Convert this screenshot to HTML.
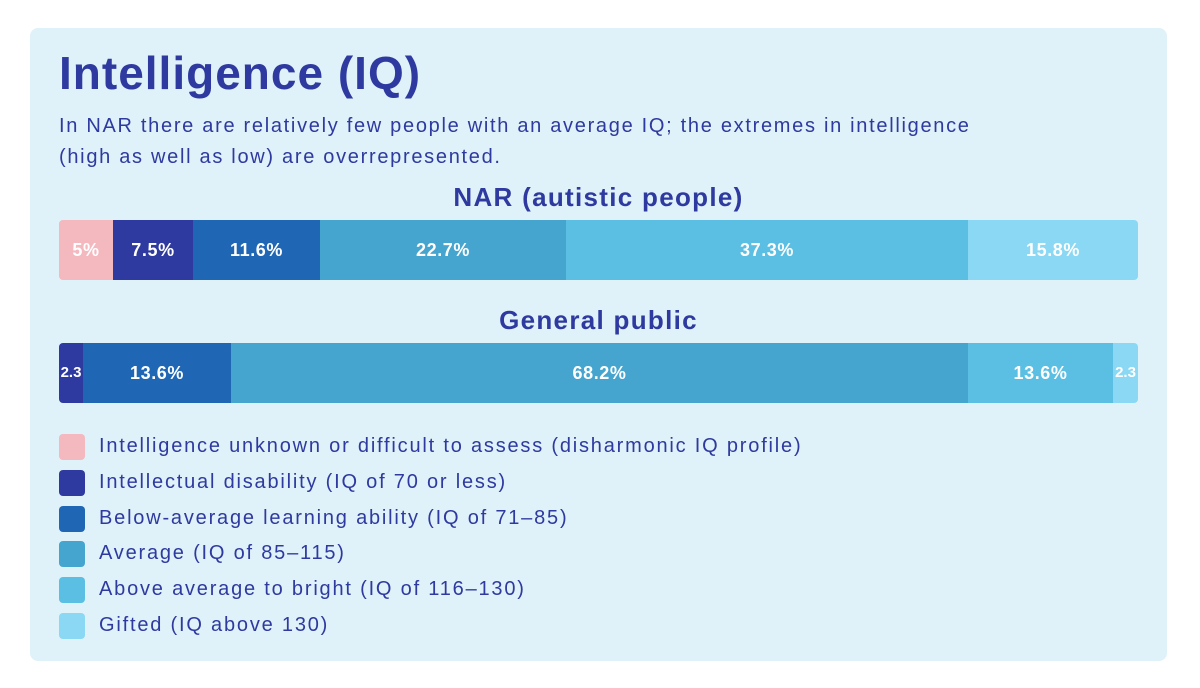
<!DOCTYPE html>
<html><head><style>
body{margin:0;width:1200px;height:688px;background:#fff;font-family:"Liberation Sans",sans-serif;position:relative;overflow:hidden}
.card{position:absolute;left:30px;top:28px;width:1137px;height:633px;background:#dff1f9;border-radius:8px}
.t{position:absolute;color:#2e3a9f;white-space:nowrap}
.bar{position:absolute;left:59px;width:1079px;height:60px;border-radius:4px;overflow:hidden;display:flex}
.bar div{height:60px;line-height:60px;color:#fff;font-weight:bold;font-size:18px;letter-spacing:0.6px;text-align:center;overflow:hidden;white-space:nowrap}
.sq{position:absolute;left:59px;width:26px;height:26px;border-radius:4px}
.lg{position:absolute;left:99px;font-size:20px;letter-spacing:1.8px;color:#2e3a9f;white-space:nowrap}
</style></head><body>
<div class="card"></div>
<div class="t" style="left:59px;top:46px;font-size:46px;font-weight:bold;letter-spacing:1px">Intelligence (IQ)</div>
<div class="t" style="left:59px;top:111px;font-size:20px;line-height:31px;letter-spacing:1.7px">In NAR there are relatively few people with an average IQ; the extremes in intelligence<br>(high as well as low) are overrepresented.</div>
<div class="t" style="left:0;width:1197px;text-align:center;top:182px;font-size:26px;font-weight:bold;letter-spacing:1.3px">NAR (autistic people)</div>
<div class="bar" style="top:220px">
<div style="width:54px;background:#f4b8bf">5%</div>
<div style="width:80px;background:#2e3a9f">7.5%</div>
<div style="width:127px;background:#1f67b5">11.6%</div>
<div style="width:246px;background:#45a5cf">22.7%</div>
<div style="width:402px;background:#5abfe3">37.3%</div>
<div style="width:170px;background:#8ad8f4">15.8%</div>
</div>
<div class="t" style="left:0;width:1197px;text-align:center;top:305px;font-size:26px;font-weight:bold;letter-spacing:1.3px">General public</div>
<div class="bar" style="top:343px">
<div style="width:24px;background:#2e3a9f;font-size:15px;letter-spacing:0">2.3</div>
<div style="width:148px;background:#1f67b5">13.6%</div>
<div style="width:737px;background:#45a5cf">68.2%</div>
<div style="width:145px;background:#5abfe3">13.6%</div>
<div style="width:25px;background:#8ad8f4;font-size:15px;letter-spacing:0">2.3</div>
</div>
<div class="sq" style="top:434px;background:#f4b8bf"></div><div class="lg" style="top:435px">Intelligence unknown or difficult to assess (disharmonic IQ profile)</div>
<div class="sq" style="top:470px;background:#2e3a9f"></div><div class="lg" style="top:471px">Intellectual disability (IQ of 70 or less)</div>
<div class="sq" style="top:506px;background:#1f67b5"></div><div class="lg" style="top:507px">Below-average learning ability (IQ of 71–85)</div>
<div class="sq" style="top:541px;background:#45a5cf"></div><div class="lg" style="top:542px">Average (IQ of 85–115)</div>
<div class="sq" style="top:577px;background:#5abfe3"></div><div class="lg" style="top:578px">Above average to bright (IQ of 116–130)</div>
<div class="sq" style="top:613px;background:#8ad8f4"></div><div class="lg" style="top:614px">Gifted (IQ above 130)</div>
</body></html>
